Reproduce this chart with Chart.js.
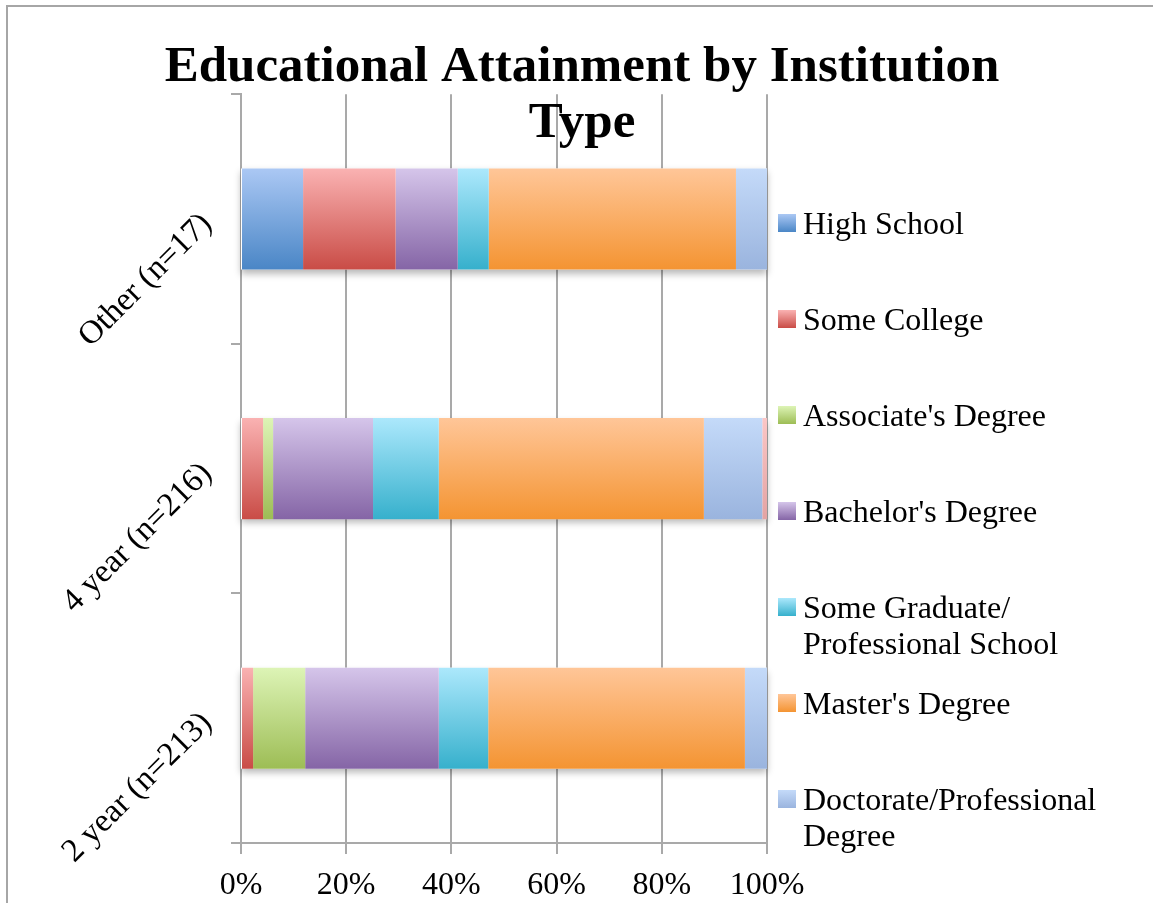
<!DOCTYPE html>
<html>
<head>
<meta charset="utf-8">
<title>Educational Attainment by Institution Type</title>
<script src="https://cdn.jsdelivr.net/npm/chart.js@4.4.1/dist/chart.umd.min.js"></script>
<style>
    html, body { margin: 0; padding: 0; background: #fff; overflow: hidden; }
    #frame {
        position: absolute; left: 6px; top: 5px;
        width: 1170px; height: 920px;
        border: 2px solid #a6a6a6;
    }
    #wrap { position: absolute; left: 0; top: 0; width: 1153px; height: 903px; }
</style>
</head>
<body>
<div id="frame"></div>
<div id="wrap"><canvas id="eduChart" width="1153" height="903"></canvas></div>
<script>
// DATA (percent of respondents per institution type)
const institutions = ['Other (n=17)', '4 year (n=216)', '2 year (n=213)'];

const highSchool   = [11.8, 0, 0];
const someCollege  = [17.6, 4.2, 2.3];
const associates   = [0, 1.9, 9.9];
const bachelors    = [11.8, 19.0, 25.4];
const someGraduate = [5.9, 12.5, 9.4];
const masters      = [47.0, 50.4, 48.8];
const doctorate    = [5.9, 11.1, 4.2];
const unreported   = [0, 0.9, 0];

const xTickLabels = ['0%', '20%', '40%', '60%', '80%', '100%'];

const SERIF = "'Liberation Serif', 'Times New Roman', serif";
const BAR_PCT = 0.405;

// vertical gradient for each bar, light on top, darker at the bottom
function barFill(top, bottom) {
    return (ctx) => {
        const chart = ctx.chart;
        const y = chart.scales.y;
        if (!y || !chart.chartArea || ctx.dataIndex === undefined) return bottom;
        const c = y.getPixelForValue(ctx.dataIndex);
        const half = y.height / institutions.length * BAR_PCT / 2;
        if (!isFinite(c) || !isFinite(half)) return bottom;
        const g = chart.ctx.createLinearGradient(0, c - half, 0, c + half);
        g.addColorStop(0, top);
        g.addColorStop(1, bottom);
        return g;
    };
}

function series(label, data, top, bottom, inLegend = true) {
    return {
        label: label,
        data: data,
        swatch: [top, bottom],
        inLegend: inLegend,
        backgroundColor: barFill(top, bottom),
        borderWidth: 0,
        barPercentage: BAR_PCT,
        categoryPercentage: 1
    };
}

// soft shadow under each whole bar
const barShadow = {
    id: 'barShadow',
    beforeDatasetsDraw(chart) {
        const { ctx, scales: { x, y } } = chart;
        const half = y.height / institutions.length * BAR_PCT / 2;
        ctx.save();
        ctx.shadowColor = 'rgba(0,0,0,0.28)';
        ctx.shadowBlur = 7;
        ctx.shadowOffsetY = 4;
        ctx.fillStyle = '#fff';
        institutions.forEach((_, i) => {
            let total = 0;
            chart.data.datasets.forEach(ds => total += ds.data[i]);
            const c = y.getPixelForValue(i);
            const x0 = x.getPixelForValue(0);
            const x1 = x.getPixelForValue(total);
            ctx.fillRect(x0, c - half, x1 - x0, half * 2);
        });
        ctx.restore();
    }
};

// legend on the right, one item every 96px, long names wrapped
const sideLegend = {
    id: 'sideLegend',
    afterDraw(chart) {
        const ctx = chart.ctx;
        const left = 778, textX = 803, step = 96, lineH = 36;
        let cy = 226;
        ctx.save();
        ctx.font = '32px ' + SERIF;
        ctx.fillStyle = '#000';
        ctx.textBaseline = 'middle';
        const maxW = chart.width - textX - 8;
        chart.data.datasets.filter(ds => ds.inLegend).forEach(ds => {
            const g = ctx.createLinearGradient(0, cy - 12, 0, cy + 6);
            g.addColorStop(0, ds.swatch[0]);
            g.addColorStop(1, ds.swatch[1]);
            ctx.fillStyle = g;
            ctx.fillRect(left, cy - 12, 18, 18);
            ctx.fillStyle = '#000';

            const parts = ds.label.match(/[^ /]+\/?\s*/g);
            const lines = [];
            let cur = '';
            parts.forEach(p => {
                if (cur && ctx.measureText((cur + p).trimEnd()).width > maxW) {
                    lines.push(cur.trimEnd());
                    cur = p;
                } else {
                    cur += p;
                }
            });
            lines.push(cur.trimEnd());
            lines.forEach((ln, k) => ctx.fillText(ln, textX, cy + k * lineH));
            cy += step;
        });
        ctx.restore();
    }
};

const gridGrey = '#a9a9a9';

new Chart(document.getElementById('eduChart'), {
    type: 'bar',
    data: {
        labels: institutions,
        datasets: [
            series('High School', highSchool, '#abc8f4', '#4a86c6'),
            series('Some College', someCollege, '#fab2b2', '#c94c46'),
            series('Associate\'s Degree', associates, '#ddf4b6', '#9dbd55'),
            series('Bachelor\'s Degree', bachelors, '#d5c5ea', '#8565a6'),
            series('Some Graduate/Professional School', someGraduate, '#ace8fc', '#36b0cc'),
            series('Master\'s Degree', masters, '#ffc698', '#f49432'),
            series('Doctorate/Professional Degree', doctorate, '#c4daf9', '#9ab4de'),
            series('Not Reported', unreported, '#fbc6c6', '#e3a3a3', false)
        ]
    },
    options: {
        indexAxis: 'y',
        responsive: false,
        animation: false,
        layout: { padding: { left: 11, right: 0, top: 0, bottom: 0 } },
        plugins: {
            legend: { display: false },
            tooltip: { enabled: false },
            title: {
                display: true,
                text: ['Educational Attainment by Institution', 'Type'],
                color: '#000',
                font: { family: SERIF, size: 51, weight: 'bold', lineHeight: 1.1 },
                padding: { top: 40, bottom: -58 }
            }
        },
        scales: {
            y: {
                stacked: true,
                afterFit(s) { s.width = 230; },
                grid: {
                    drawOnChartArea: false,
                    drawTicks: true,
                    tickLength: 10,
                    color: gridGrey,
                    lineWidth: 2
                },
                border: { display: true, color: gridGrey, width: 2 },
                ticks: {
                    minRotation: 45,
                    maxRotation: 45,
                    padding: 24,
                    color: '#000',
                    font: { family: SERIF, size: 33 }
                }
            },
            pad: {
                type: 'linear',
                position: 'right',
                afterFit(s) { s.width = 386; },
                grid: { display: false },
                border: { display: false },
                ticks: { display: false }
            },
            x: {
                stacked: true,
                min: 0,
                max: 100,
                afterFit(s) { s.height = 60; },
                grid: {
                    color: gridGrey,
                    lineWidth: 2,
                    tickLength: 11
                },
                border: { display: true, color: gridGrey, width: 2 },
                ticks: {
                    stepSize: 20,
                    padding: 12,
                    color: '#000',
                    font: { family: SERIF, size: 32 },
                    callback: (v, i) => xTickLabels[i]
                }
            }
        }
    },
    plugins: [barShadow, sideLegend]
});
</script>
</body>
</html>
